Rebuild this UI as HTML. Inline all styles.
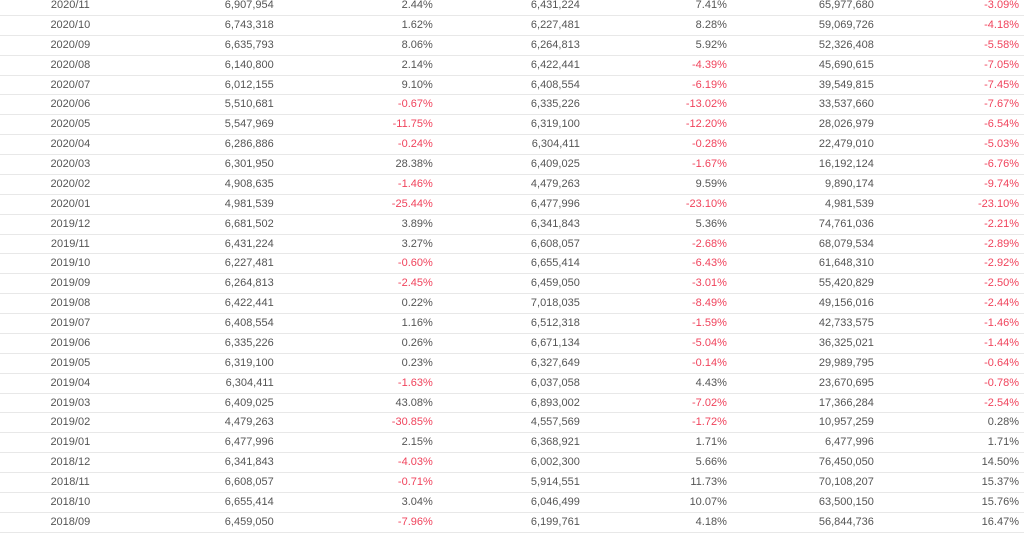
<!DOCTYPE html>
<html><head><meta charset="utf-8"><style>
body{margin:0;width:1024px;height:531px;overflow:hidden;background:#fff;font-family:"Liberation Sans",Arial,sans-serif;font-size:11px;color:#555;}
.t{position:absolute;left:0;top:-4px;width:1024px;}
.r{height:19.88px;display:flex;}
.c{box-sizing:border-box;width:147px;height:19.88px;line-height:19px;text-align:right;padding-right:8px;border-bottom:1px solid #e8e8e8;margin-right:0.4px;}
.c:nth-child(2){padding-right:20px;}
.c:first-child{text-align:center;padding:0 6px 0 0;}
.c:last-child{width:142px;padding-right:5px;margin-right:0}
.n{color:#f0435c;}
</style></head><body><div class="t">
<div class="r"><div class="c">2020/11</div><div class="c">6,907,954</div><div class="c">2.44%</div><div class="c">6,431,224</div><div class="c">7.41%</div><div class="c">65,977,680</div><div class="c n">-3.09%</div></div>
<div class="r"><div class="c">2020/10</div><div class="c">6,743,318</div><div class="c">1.62%</div><div class="c">6,227,481</div><div class="c">8.28%</div><div class="c">59,069,726</div><div class="c n">-4.18%</div></div>
<div class="r"><div class="c">2020/09</div><div class="c">6,635,793</div><div class="c">8.06%</div><div class="c">6,264,813</div><div class="c">5.92%</div><div class="c">52,326,408</div><div class="c n">-5.58%</div></div>
<div class="r"><div class="c">2020/08</div><div class="c">6,140,800</div><div class="c">2.14%</div><div class="c">6,422,441</div><div class="c n">-4.39%</div><div class="c">45,690,615</div><div class="c n">-7.05%</div></div>
<div class="r"><div class="c">2020/07</div><div class="c">6,012,155</div><div class="c">9.10%</div><div class="c">6,408,554</div><div class="c n">-6.19%</div><div class="c">39,549,815</div><div class="c n">-7.45%</div></div>
<div class="r"><div class="c">2020/06</div><div class="c">5,510,681</div><div class="c n">-0.67%</div><div class="c">6,335,226</div><div class="c n">-13.02%</div><div class="c">33,537,660</div><div class="c n">-7.67%</div></div>
<div class="r"><div class="c">2020/05</div><div class="c">5,547,969</div><div class="c n">-11.75%</div><div class="c">6,319,100</div><div class="c n">-12.20%</div><div class="c">28,026,979</div><div class="c n">-6.54%</div></div>
<div class="r"><div class="c">2020/04</div><div class="c">6,286,886</div><div class="c n">-0.24%</div><div class="c">6,304,411</div><div class="c n">-0.28%</div><div class="c">22,479,010</div><div class="c n">-5.03%</div></div>
<div class="r"><div class="c">2020/03</div><div class="c">6,301,950</div><div class="c">28.38%</div><div class="c">6,409,025</div><div class="c n">-1.67%</div><div class="c">16,192,124</div><div class="c n">-6.76%</div></div>
<div class="r"><div class="c">2020/02</div><div class="c">4,908,635</div><div class="c n">-1.46%</div><div class="c">4,479,263</div><div class="c">9.59%</div><div class="c">9,890,174</div><div class="c n">-9.74%</div></div>
<div class="r"><div class="c">2020/01</div><div class="c">4,981,539</div><div class="c n">-25.44%</div><div class="c">6,477,996</div><div class="c n">-23.10%</div><div class="c">4,981,539</div><div class="c n">-23.10%</div></div>
<div class="r"><div class="c">2019/12</div><div class="c">6,681,502</div><div class="c">3.89%</div><div class="c">6,341,843</div><div class="c">5.36%</div><div class="c">74,761,036</div><div class="c n">-2.21%</div></div>
<div class="r"><div class="c">2019/11</div><div class="c">6,431,224</div><div class="c">3.27%</div><div class="c">6,608,057</div><div class="c n">-2.68%</div><div class="c">68,079,534</div><div class="c n">-2.89%</div></div>
<div class="r"><div class="c">2019/10</div><div class="c">6,227,481</div><div class="c n">-0.60%</div><div class="c">6,655,414</div><div class="c n">-6.43%</div><div class="c">61,648,310</div><div class="c n">-2.92%</div></div>
<div class="r"><div class="c">2019/09</div><div class="c">6,264,813</div><div class="c n">-2.45%</div><div class="c">6,459,050</div><div class="c n">-3.01%</div><div class="c">55,420,829</div><div class="c n">-2.50%</div></div>
<div class="r"><div class="c">2019/08</div><div class="c">6,422,441</div><div class="c">0.22%</div><div class="c">7,018,035</div><div class="c n">-8.49%</div><div class="c">49,156,016</div><div class="c n">-2.44%</div></div>
<div class="r"><div class="c">2019/07</div><div class="c">6,408,554</div><div class="c">1.16%</div><div class="c">6,512,318</div><div class="c n">-1.59%</div><div class="c">42,733,575</div><div class="c n">-1.46%</div></div>
<div class="r"><div class="c">2019/06</div><div class="c">6,335,226</div><div class="c">0.26%</div><div class="c">6,671,134</div><div class="c n">-5.04%</div><div class="c">36,325,021</div><div class="c n">-1.44%</div></div>
<div class="r"><div class="c">2019/05</div><div class="c">6,319,100</div><div class="c">0.23%</div><div class="c">6,327,649</div><div class="c n">-0.14%</div><div class="c">29,989,795</div><div class="c n">-0.64%</div></div>
<div class="r"><div class="c">2019/04</div><div class="c">6,304,411</div><div class="c n">-1.63%</div><div class="c">6,037,058</div><div class="c">4.43%</div><div class="c">23,670,695</div><div class="c n">-0.78%</div></div>
<div class="r"><div class="c">2019/03</div><div class="c">6,409,025</div><div class="c">43.08%</div><div class="c">6,893,002</div><div class="c n">-7.02%</div><div class="c">17,366,284</div><div class="c n">-2.54%</div></div>
<div class="r"><div class="c">2019/02</div><div class="c">4,479,263</div><div class="c n">-30.85%</div><div class="c">4,557,569</div><div class="c n">-1.72%</div><div class="c">10,957,259</div><div class="c">0.28%</div></div>
<div class="r"><div class="c">2019/01</div><div class="c">6,477,996</div><div class="c">2.15%</div><div class="c">6,368,921</div><div class="c">1.71%</div><div class="c">6,477,996</div><div class="c">1.71%</div></div>
<div class="r"><div class="c">2018/12</div><div class="c">6,341,843</div><div class="c n">-4.03%</div><div class="c">6,002,300</div><div class="c">5.66%</div><div class="c">76,450,050</div><div class="c">14.50%</div></div>
<div class="r"><div class="c">2018/11</div><div class="c">6,608,057</div><div class="c n">-0.71%</div><div class="c">5,914,551</div><div class="c">11.73%</div><div class="c">70,108,207</div><div class="c">15.37%</div></div>
<div class="r"><div class="c">2018/10</div><div class="c">6,655,414</div><div class="c">3.04%</div><div class="c">6,046,499</div><div class="c">10.07%</div><div class="c">63,500,150</div><div class="c">15.76%</div></div>
<div class="r"><div class="c">2018/09</div><div class="c">6,459,050</div><div class="c n">-7.96%</div><div class="c">6,199,761</div><div class="c">4.18%</div><div class="c">56,844,736</div><div class="c">16.47%</div></div>
</div></body></html>
